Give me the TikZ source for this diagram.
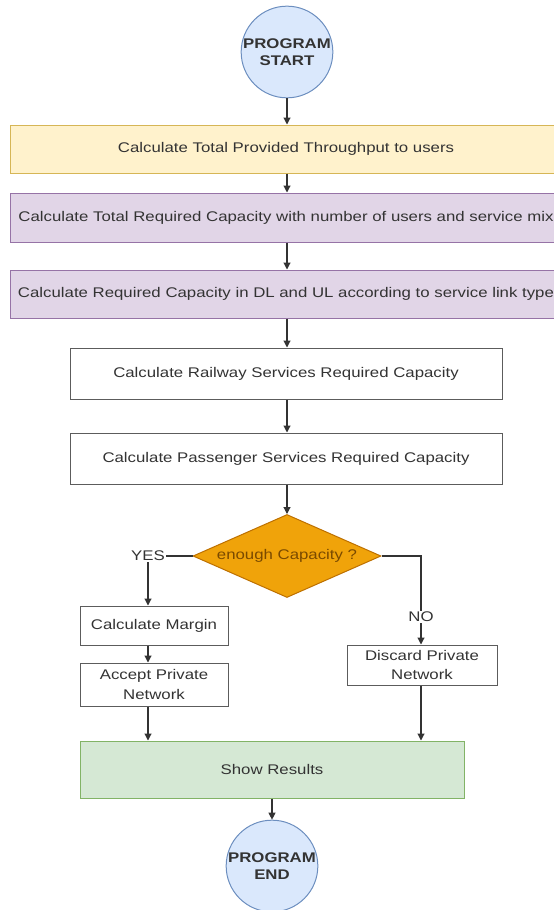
\documentclass[tikz,border=0pt]{standalone}
\usepackage{fontspec}
\setmainfont{Liberation Sans}[FakeStretch=1.2]
\usetikzlibrary{arrows.meta,shapes.geometric}

\definecolor{inkgray}{HTML}{333333}
\definecolor{termfill}{HTML}{DAE8FC}
\definecolor{termline}{HTML}{6C8EBF}
\definecolor{yelfill}{HTML}{FFF2CC}
\definecolor{yelline}{HTML}{D6B656}
\definecolor{purfill}{HTML}{E1D5E7}
\definecolor{purline}{HTML}{9673A6}
\definecolor{grnfill}{HTML}{D5E8D4}
\definecolor{grnline}{HTML}{82B366}
\definecolor{decfill}{HTML}{F0A30A}
\definecolor{decline}{HTML}{BD7000}
\definecolor{dectext}{HTML}{7A4A00}

\tikzset{
  every node/.style={font=\fontsize{14}{17}\selectfont, text=inkgray},
  terminal/.style={circle, draw=termline, fill=termfill, line width=1pt,
    minimum size=88pt, inner sep=0pt, align=center,
    font=\fontsize{14}{17}\selectfont\bfseries},
  widebox/.style={rectangle, line width=1pt, minimum width=552pt, inner sep=0pt},
  procbox/.style={rectangle, draw=inkgray!80, fill=white, line width=1pt, inner sep=0pt, align=center},
  decision/.style={diamond, draw=decline, fill=decfill, line width=1pt, aspect=2.26,
    minimum width=188pt, minimum height=83pt, inner sep=0pt, text=dectext},
  flow/.style={draw=inkgray, line width=1.1pt, -{Triangle[length=7pt,width=7pt]}},
  branchlabel/.style={fill=white, inner sep=1pt}
}

\begin{document}
\begin{tikzpicture}[x=1pt, y=-1pt]
  \useasboundingbox (0,0) rectangle (554,910);

  % terminals
  \node[terminal] (start) at (287,52) {PROGRAM\\START};
  \node[terminal, minimum size=90pt] (stop) at (272,866) {PROGRAM\\END};

  % full-width capacity steps
  \node[widebox, draw=yelline, fill=yelfill, minimum height=48pt] (thr) at (286,149)
    {Calculate Total Provided Throughput to users};
  \node[widebox, draw=purline, fill=purfill, minimum height=49pt] (req) at (286,217.5)
    {Calculate Total Required Capacity with number of users and service mix};
  \node[widebox, draw=purline, fill=purfill, minimum height=48pt] (dlul) at (286,294)
    {Calculate Required Capacity in DL and UL according to service link type};

  % service capacity steps
  \node[procbox, minimum width=432pt, minimum height=51pt] (rail) at (286,373.5)
    {Calculate Railway Services Required Capacity};
  \node[procbox, minimum width=432pt, minimum height=51pt] (pass) at (286,458.5)
    {Calculate Passenger Services Required Capacity};

  % decision
  \node[decision] (enough) at (287,556) {enough Capacity ?};

  % branches
  \node[procbox, minimum width=148pt, minimum height=39pt] (margin) at (154,625.5)
    {Calculate Margin};
  \node[procbox, minimum width=148pt, minimum height=43pt, font=\fontsize{14}{20}\selectfont] (accept) at (154,684.5)
    {Accept Private\\Network};
  \node[procbox, minimum width=150pt, minimum height=40pt, font=\fontsize{14}{19}\selectfont] (discard) at (422,665)
    {Discard Private\\Network};

  % results
  \node[rectangle, draw=grnline, fill=grnfill, line width=1pt, minimum width=384pt,
    minimum height=57pt, inner sep=0pt] (show) at (272,769.5) {Show Results};

  % connectors
  \coordinate (yesturn) at (148,556);
  \coordinate (noturn) at (421,556);

  \draw[flow] (start) -- (start |- thr.north);
  \draw[flow] (start |- thr.south) -- (start |- req.north);
  \draw[flow] (start |- req.south) -- (start |- dlul.north);
  \draw[flow] (start |- dlul.south) -- (start |- rail.north);
  \draw[flow] (start |- rail.south) -- (start |- pass.north);
  \draw[flow] (start |- pass.south) -- (enough.north);

  \draw[flow] (enough.west) -- (yesturn) -- (yesturn |- margin.north);
  \node[branchlabel] (yes) at (yesturn) {YES};
  \draw[flow] (yesturn |- margin.south) -- (yesturn |- accept.north);
  \draw[flow] (yesturn |- accept.south) -- (yesturn |- show.north);

  \draw[flow] (enough.east) -- (noturn) -- (noturn |- discard.north);
  \node[branchlabel] (no) at (421,617) {NO};
  \draw[flow] (noturn |- discard.south) -- (noturn |- show.north);

  \draw[flow] (show.south) -- (stop.north);
\end{tikzpicture}
\end{document}
